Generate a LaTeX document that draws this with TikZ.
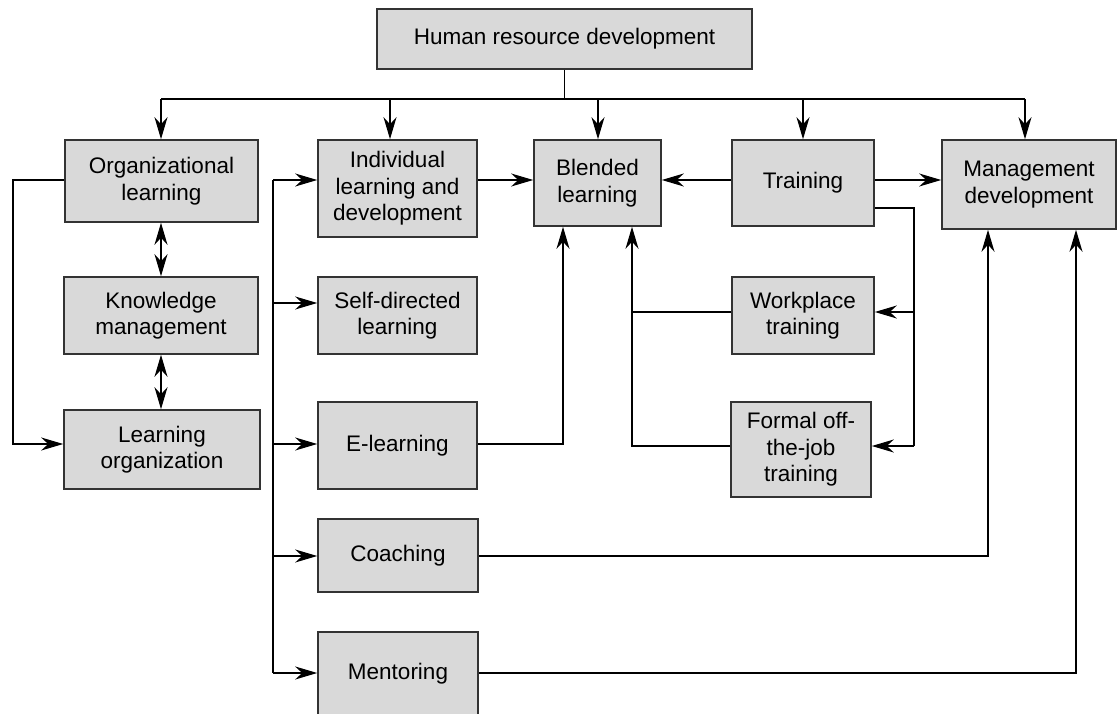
\documentclass[tikz,border=0pt]{standalone}
\usepackage{fontspec}
\setmainfont{Liberation Sans}
\usetikzlibrary{arrows.meta}
\definecolor{boxfill}{HTML}{D9D9D9}
\definecolor{boxline}{HTML}{333333}
\tikzset{
  mytip/.tip={Stealth[length=22pt, width=13pt, inset=7pt]},
}
\begin{document}
\begin{tikzpicture}[x=1pt,y=-1pt,
  box/.style={draw=boxline, line width=1.6pt, fill=boxfill, inner sep=0pt, align=center,
    font=\fontsize{22.5}{26.5}\selectfont},
  conn/.style={line width=1.3pt, black},
  arr/.style={conn, -mytip},
  darr/.style={conn, mytip-mytip}]
\useasboundingbox (0,0) rectangle (1117,714);
% boxes
\node[box, minimum width=375pt, minimum height=60pt] (hrd) at (564.5,39) {Human resource development};
\node[box, minimum width=193pt, minimum height=82pt] (org) at (161.5,181) {Organizational\\learning};
\node[box, minimum width=194pt, minimum height=77pt] (km) at (161,315.5) {Knowledge\\management};
\node[box, minimum width=196pt, minimum height=79pt] (lo) at (162,449.5) {Learning\\organization};
\node[box, minimum width=159pt, minimum height=97pt] (ind) at (397.5,188.5) {Individual\\learning and\\development};
\node[box, minimum width=159pt, minimum height=77pt] (sdl) at (397.5,315.5) {Self-directed\\learning};
\node[box, minimum width=159pt, minimum height=87pt] (el) at (397.5,445.5) {E-learning};
\node[box, minimum width=160pt, minimum height=73pt] (coach) at (398,555.5) {Coaching};
\node[box, minimum width=160pt, minimum height=84pt] (ment) at (398,674) {Mentoring};
\node[box, minimum width=127pt, minimum height=86pt] (blend) at (597.5,183) {Blended\\learning};
\node[box, minimum width=142pt, minimum height=86pt] (train) at (803,183) {Training};
\node[box, minimum width=174pt, minimum height=89pt] (mgmt) at (1029,184.5) {Management\\development};
\node[box, minimum width=142pt, minimum height=77pt] (wp) at (803,315.5) {Workplace\\training};
\node[box, minimum width=140pt, minimum height=95pt] (formal) at (801,449.5) {Formal off-\\the-job\\training};
% top bus
\coordinate (busL) at (161,99);
\coordinate (busR) at (1025,99);
\coordinate (dInd) at (390,99);
\coordinate (dBlend) at (598,99);
\coordinate (dTrain) at (803,99);
\draw[conn] (hrd.south) -- (hrd.south |- busL);
\draw[conn] (busL) -- (busR);
\draw[arr] (busL) -- (busL |- org.north);
\draw[arr] (dInd) -- (dInd |- ind.north);
\draw[arr] (dBlend) -- (dBlend |- blend.north);
\draw[arr] (dTrain) -- (dTrain |- train.north);
\draw[arr] (busR) -- (busR |- mgmt.north);
% column 1
\coordinate (c1) at (161,0);
\draw[darr] (c1 |- org.south) -- (c1 |- km.north);
\draw[darr] (c1 |- km.south) -- (c1 |- lo.north);
\coordinate (L1) at (13,180);
\coordinate (L2) at (13,444);
\draw[arr] (org.west |- L1) -- (L1) -- (L2) -- (lo.west |- L2);
% column 2 bus
\coordinate (B1) at (273,180);
\coordinate (B2) at (273,303);
\coordinate (B3) at (273,444);
\coordinate (B4) at (273,556);
\coordinate (B5) at (273,673);
\draw[conn] (B1) -- (B5);
\draw[arr] (B1) -- (ind.west |- B1);
\draw[arr] (B2) -- (sdl.west |- B2);
\draw[arr] (B3) -- (el.west |- B3);
\draw[arr] (B4) -- (coach.west |- B4);
\draw[arr] (B5) -- (ment.west |- B5);
% row connectors
\coordinate (R1) at (0,180);
\draw[arr] (ind.east |- R1) -- (blend.west |- R1);
\draw[arr] (train.west |- R1) -- (blend.east |- R1);
\draw[arr] (train.east |- R1) -- (mgmt.west |- R1);
% training branch
\coordinate (T1) at (914,208);
\coordinate (T2) at (914,312);
\coordinate (T3) at (914,446);
\draw[conn] (train.east |- T1) -- (T1) -- (T3);
\draw[arr] (T2) -- (wp.east |- T2);
\draw[arr] (T3) -- (formal.east |- T3);
% workplace / formal to blended
\coordinate (W1) at (632,312);
\coordinate (W2) at (632,446);
\draw[conn] (wp.west |- W1) -- (W1);
\draw[arr] (formal.west |- W2) -- (W2) -- (W2 |- blend.south);
% e-learning to blended
\coordinate (E1) at (563,444);
\draw[arr] (el.east |- E1) -- (E1) -- (E1 |- blend.south);
% coaching / mentoring to management
\coordinate (C1) at (988,556);
\coordinate (M1) at (1076,673);
\draw[arr] (coach.east |- C1) -- (C1) -- (C1 |- mgmt.south);
\draw[arr] (ment.east |- M1) -- (M1) -- (M1 |- mgmt.south);
\end{tikzpicture}
\end{document}
